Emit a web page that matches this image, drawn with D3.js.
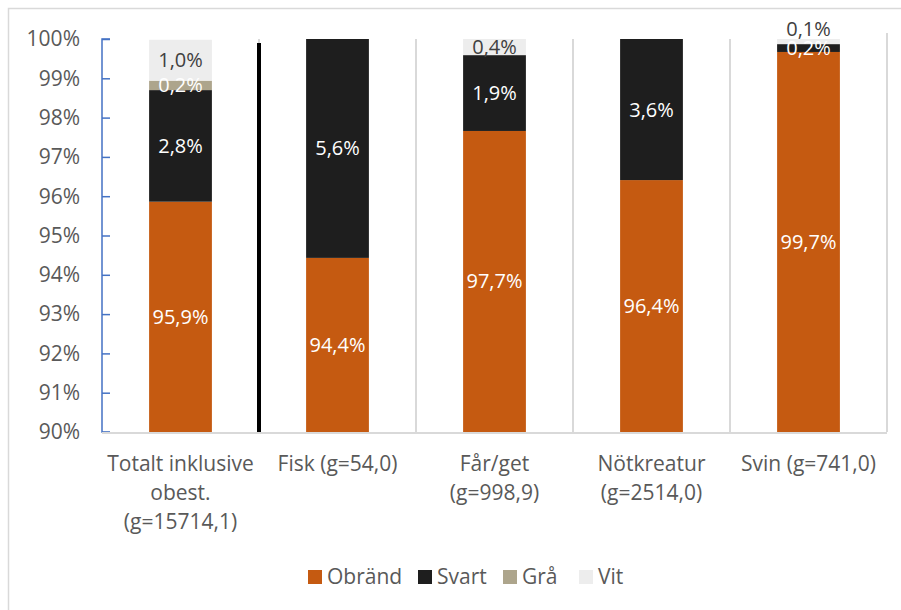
<!DOCTYPE html>
<html><head><meta charset="utf-8">
<script src="https://cdn.jsdelivr.net/npm/d3@7"></script>
<style>body{margin:0;background:#fff}svg{display:block}text{font-family:"Open Sans",sans-serif}</style>
</head><body><svg id="c" width="901" height="610"></svg>
<script>
const categories = ["Totalt inklusive\nobest.\n(g=15714,1)", "Fisk (g=54,0)", "Får/get\n(g=998,9)", "Nötkreatur\n(g=2514,0)", "Svin (g=741,0)"];
const seriesNames = ["Obränd", "Svart", "Grå", "Vit"];
const obrand = [95.86, 94.43, 97.66, 96.41, 99.67];
const svart = [2.84, 5.57, 1.93, 3.59, 0.2];
const gra = [0.24, 0, 0, 0, 0];
const vit = [1.04, 0, 0.41, 0, 0.13];
const yTicks = [90, 91, 92, 93, 94, 95, 96, 97, 98, 99, 100];
const colors = ["#C55A11", "#1E1E1E", "#ADA58C", "#EDEDED"];
const labelColors = ["#ffffff", "#ffffff", "#ffffff", "#404040"];

const svg = d3.select("#c");
const L = 102, R = 887, T = 39, B = 432;
const x = d3.scaleBand().domain(categories).range([L, R]).paddingInner(0.6).paddingOuter(0.3);
const xb = d3.scaleBand().domain(categories).range([L, R]);
const y = d3.scaleLinear().domain([90, 100]).range([B, T]);

// outer chart border
svg.append("path").attr("d", `M8.5,612 V8.5 H903`).attr("fill", "none").attr("stroke", "#d9d9d9").attr("stroke-width", 1.5);

// category separators
const bounds = categories.map(c => xb(c) + xb.bandwidth());
svg.selectAll(".vg").data(bounds).enter().append("line")
  .attr("x1", d => d).attr("x2", d => d).attr("y1", (d, i) => i === bounds.length - 1 ? 33 : T).attr("y2", B)
  .attr("stroke", "#d9d9d9").attr("stroke-width", 2);

const series = [obrand, svart, gra, vit];
const data = categories.map((c, i) => ({ cat: c, vals: series.map(s => s[i]) }));
const stacked = d3.stack().keys([0, 1, 2, 3]).value((d, k) => d.vals[k])(data);

const clamp = v => Math.max(90, Math.min(100, v));
const g = svg.append("g");
stacked.forEach((layer, k) => {
  g.selectAll(".b" + k).data(layer).enter().append("rect")
    .attr("x", d => x(d.data.cat)).attr("width", x.bandwidth())
    .attr("y", d => y(clamp(d[1]))).attr("height", d => Math.max(0, y(clamp(d[0])) - y(clamp(d[1]))))
    .attr("fill", colors[k]);
});

// black separator after first category
svg.append("line").attr("x1", bounds[0]).attr("x2", bounds[0]).attr("y1", T + 4).attr("y2", B)
  .attr("stroke", "#000").attr("stroke-width", 4);

// y axis
const yAxis = d3.axisRight(y).tickValues(yTicks).tickSize(8).tickFormat("");
const ya = svg.append("g").attr("transform", `translate(${L},0)`).call(yAxis);
ya.selectAll("path,line").attr("stroke", "#4472C4").attr("stroke-width", 1.5);
ya.select(".domain").attr("d", `M8,${T}H0V${B}H8`);
svg.selectAll(".yl").data(yTicks).enter().append("text")
  .attr("x", 80).attr("y", d => y(d)).attr("dy", "0.35em").attr("text-anchor", "end")
  .attr("fill", "#595959").attr("font-size", 21).text(d => d + "%");

// x axis line
svg.append("line").attr("x1", L).attr("x2", R).attr("y1", B + 1).attr("y2", B + 1).attr("stroke", "#d9d9d9").attr("stroke-width", 2);

// category labels
categories.forEach(c => {
  const lines = c.split("\n");
  const cx = xb(c) + xb.bandwidth() / 2;
  const t = svg.append("text").attr("x", cx).attr("y", 471)
    .attr("text-anchor", "middle").attr("fill", "#595959").attr("font-size", 21);
  lines.forEach((ln, i) => t.append("tspan").attr("x", cx).attr("dy", i ? 29 : 0).text(ln));
});

// data labels
const fmt = v => v.toFixed(1).replace(".", ",") + "%";
stacked.forEach((layer, k) => {
  layer.forEach((d) => {
    const v = d[1] - d[0];
    if (v <= 0) return;
    let cy = (y(clamp(d[0])) + y(clamp(d[1]))) / 2;
    const h = y(clamp(d[0])) - y(clamp(d[1]));
    if (h < 6) cy = y(clamp(d[1])) - 10;
    svg.append("text").attr("x", x(d.data.cat) + x.bandwidth() / 2).attr("y", cy).attr("dy", "0.35em")
      .attr("text-anchor", "middle").attr("fill", labelColors[k]).attr("font-size", 20).text(fmt(v));
  });
});

// legend
const legX = [308, 418, 503, 579];
const lg = svg.selectAll(".lg").data(seriesNames).enter().append("g").attr("transform", (d, i) => `translate(${legX[i]},570)`);
lg.append("rect").attr("width", 14).attr("height", 14).attr("fill", (d, i) => colors[i]);
lg.append("text").attr("x", 19).attr("y", 7).attr("dy", "0.35em").attr("fill", "#595959").attr("font-size", 21).text(d => d);
</script></body></html>
